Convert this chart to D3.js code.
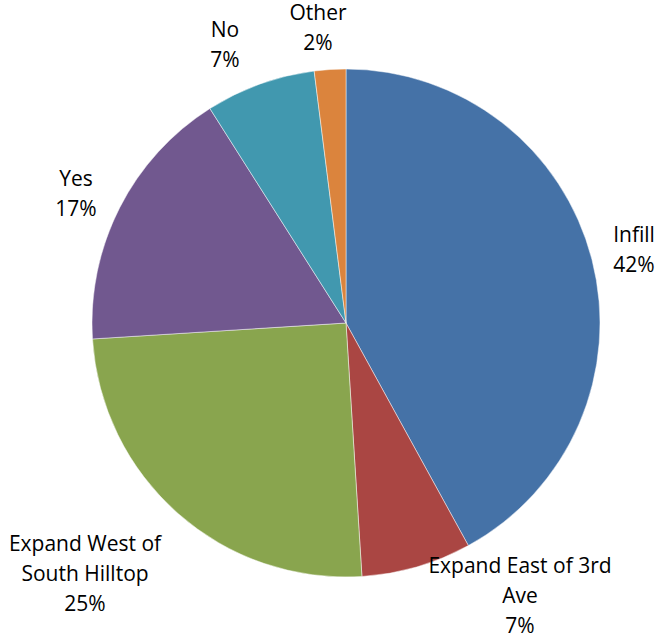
<!DOCTYPE html>
<html>
<head>
<meta charset="utf-8">
<script src="https://cdn.jsdelivr.net/npm/d3@7"></script>
<style>
  html, body { margin: 0; padding: 0; background: #fff; }
  svg text { font-family: "Open Sans", Lato, sans-serif; font-size: 21px; fill: #000; }
</style>
</head>
<body>
<svg id="chart" width="657" height="634"></svg>
<script>
// Survey responses, share of answers in percent
const categories = ["Infill", "Expand East of 3rd Ave", "Expand West of South Hilltop", "Yes", "No", "Other"];
const values = [42, 7, 25, 17, 7, 2];
const colors = ["#4572A7", "#AA4643", "#89A54E", "#71588F", "#4198AF", "#DB843D"];
// Label text lines (category wrapped as in the chart, then the percent)
const labelLines = [
  ["Infill"],
  ["Expand East of 3rd", "Ave"],
  ["Expand West of", "South Hilltop"],
  ["Yes"],
  ["No"],
  ["Other"]
];

const svg = d3.select("#chart");
const cx = 346, cy = 323, radius = 254;

const data = categories.map((c, i) => ({ name: c, value: values[i], color: colors[i], lines: labelLines[i] }));

const pie = d3.pie().value(d => d.value).sort(null);
const arcs = pie(data);
const arc = d3.arc().innerRadius(0).outerRadius(radius);

const g = svg.append("g").attr("transform", `translate(${cx},${cy})`);

g.selectAll("path")
  .data(arcs)
  .join("path")
  .attr("d", arc)
  .attr("fill", d => d.data.color)
  .attr("stroke", "#ffffff")
  .attr("stroke-width", 0.8)
  .attr("stroke-opacity", 0.6);

// Labels sit outside the rim, anchored at the first baseline
const labelPos = {
  "Infill": [288, -81],
  "Expand East of 3rd Ave": [174, 250],
  "Expand West of South Hilltop": [-261, 228],
  "Yes": [-270, -137],
  "No": [-121, -286],
  "Other": [-28, -303]
};

const lineH = 30;
const labels = g.selectAll("g.label")
  .data(arcs)
  .join("g")
  .attr("class", "label")
  .attr("transform", d => `translate(${labelPos[d.data.name][0]},${labelPos[d.data.name][1]})`);

labels.each(function(d) {
  const lines = d.data.lines.concat([d3.format(".0f")(d.data.value) + "%"]);
  const t = d3.select(this).append("text").attr("text-anchor", "middle");
  lines.forEach((ln, i) => {
    t.append("tspan").attr("x", 0).attr("y", i * lineH).text(ln);
  });
});
</script>
</body>
</html>
